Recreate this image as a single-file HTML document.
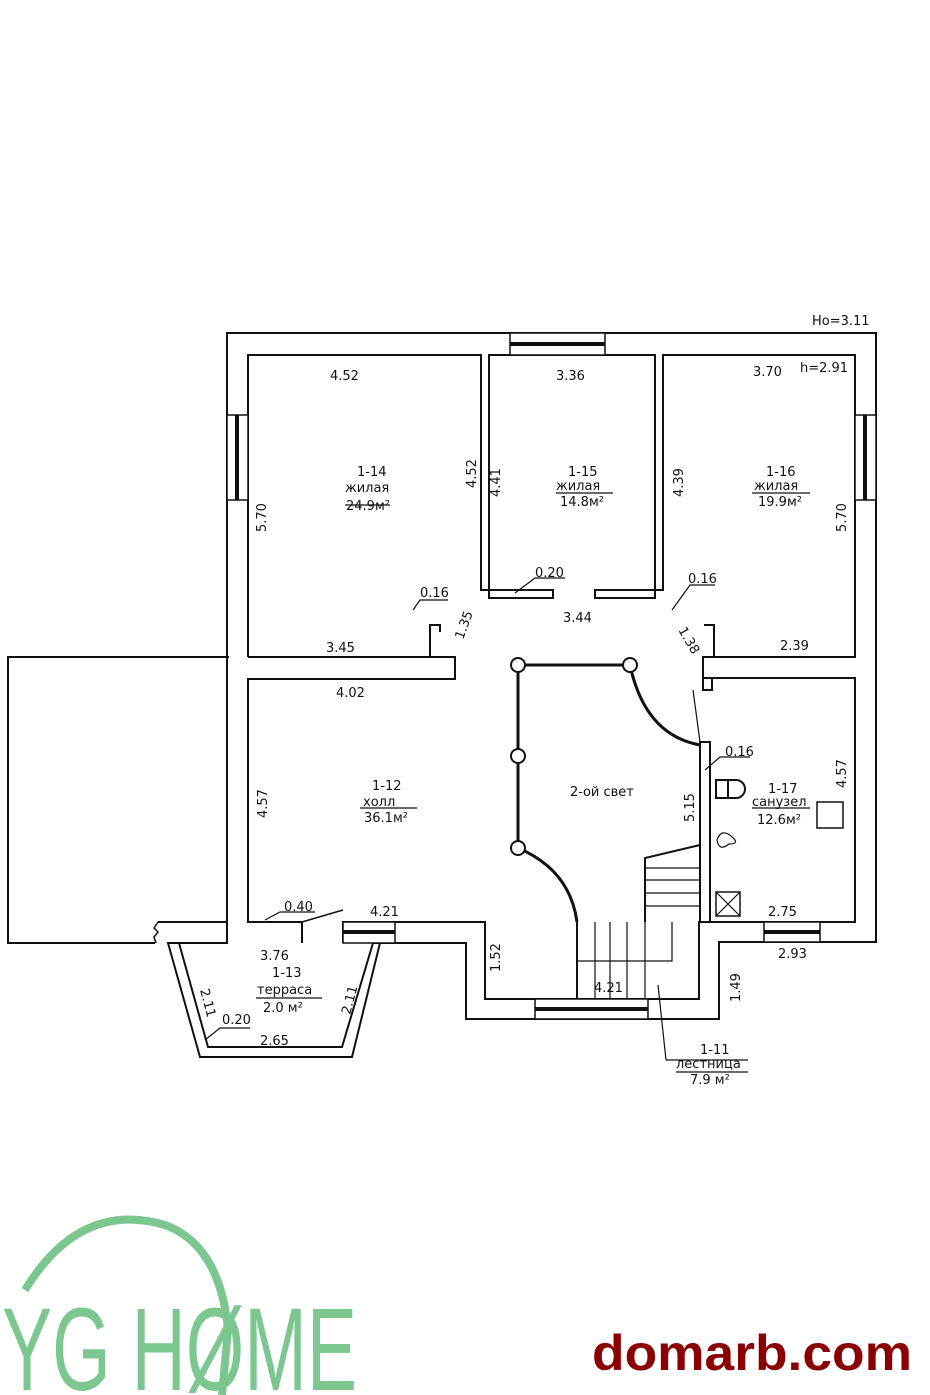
<!DOCTYPE html>
<html><head><meta charset="utf-8"><style>
body{margin:0;background:#fff;width:930px;height:1395px;overflow:hidden}
svg{display:block}
text{font-family:"DejaVu Sans","Liberation Sans",sans-serif;font-size:13px;fill:#111}
</style></head><body>
<svg width="930" height="1395" viewBox="0 0 930 1395" xmlns="http://www.w3.org/2000/svg">
<g fill="none" stroke="#111" stroke-width="2">
<polyline points="229,657 8,657 8,943 155,943"/>
<polyline points="158,922 227,922"/>
<path d="M158,922 l-4,6 l4,4 l-4,5 l2,6" stroke-width="1.5"/>
<polyline points="168,943 227,943 227,333 876,333 876,942 719,942 719,1019 466,1019 466,943 380,943"/>
<polyline points="248,657 248,355 481,355 481,590 553,590 553,598 489,598 489,355 655,355 655,598 595,598 595,590 663,590 663,355 855,355 855,657 703,657 703,678 855,678 855,922 699,922 699,999 485,999 485,922 343,922 343,943"/>
<polyline points="248,678 248,922 302,922 302,943"/>
<polyline points="248,657 455,657 455,679 248,679"/>
<polyline points="430,657 430,625 440,625 440,632"/>
<polyline points="714,657 714,625 704,625"/>
<polyline points="703,678 703,690 712,690 712,678"/>
<polyline points="700,922 700,742 710,742 710,922"/>
<line x1="693" y1="690" x2="700" y2="742" stroke-width="1.2"/>
<polygon points="168,943 200,1057 352,1057 380,943 373,943 342,1047 208,1047 179,943"/>
<line x1="302" y1="922" x2="343" y2="910" stroke-width="1.5"/>
<line x1="518" y1="665" x2="630" y2="665" stroke-width="3"/>
<line x1="518" y1="665" x2="518" y2="848" stroke-width="3"/>
<path d="M630,665 Q645,735 700,745" stroke-width="3"/>
<path d="M518,848 Q570,870 577,922" stroke-width="3"/>
<polyline points="577,922 577,999"/>
<polyline points="645,922 645,858 700,845"/>
<g stroke-width="1.2">
<line x1="645" y1="868" x2="700" y2="868"/><line x1="645" y1="880" x2="700" y2="880"/>
<line x1="645" y1="893" x2="700" y2="893"/><line x1="645" y1="906" x2="700" y2="906"/>
<line x1="595" y1="922" x2="595" y2="999"/><line x1="610" y1="922" x2="610" y2="999"/>
<line x1="627" y1="922" x2="627" y2="999"/><line x1="645" y1="922" x2="645" y2="999"/>
<polyline points="577,961 672,961 672,922"/>
<line x1="658" y1="985" x2="666" y2="1060"/>
<line x1="666" y1="1060" x2="748" y2="1060"/>
</g>
<rect x="716" y="780" width="12" height="18"/>
<path d="M728,780 h8 a9 9 0 0 1 0 18 h-8"/>
<path d="M717,840 q4,-12 14,-4 q10,8 -2,8 q-10,8 -12,-4z" stroke-width="1.2"/>
<rect x="716" y="892" width="24" height="24" stroke-width="1.5"/>
<path d="M716,892 l24,24 M740,892 l-24,24" stroke-width="1.2"/>
<rect x="817" y="802" width="26" height="26" stroke-width="1.5"/>
</g>
<g fill="#fff" stroke="#111" stroke-width="2">
<circle cx="518" cy="665" r="7"/><circle cx="630" cy="665" r="7"/>
<circle cx="518" cy="756" r="7"/><circle cx="518" cy="848" r="7"/>
</g>
<g fill="#fff" stroke="#111" stroke-width="1.5">
<rect x="510" y="333" width="95" height="22"/><line x1="510" y1="344" x2="605" y2="344" stroke-width="4"/>
<rect x="227" y="415" width="21" height="85"/><line x1="237" y1="415" x2="237" y2="500" stroke-width="4"/>
<rect x="855" y="415" width="21" height="85"/><line x1="865" y1="415" x2="865" y2="500" stroke-width="4"/>
<rect x="535" y="999" width="113" height="20"/><line x1="535" y1="1009" x2="648" y2="1009" stroke-width="4"/>
<rect x="764" y="922" width="56" height="20"/><line x1="764" y1="932" x2="820" y2="932" stroke-width="4"/>
<rect x="343" y="922" width="52" height="21"/><line x1="343" y1="932" x2="395" y2="932" stroke-width="4"/>
</g>
<g stroke="#111" stroke-width="1.2" fill="none">
<polyline points="413,610 420,600 448,600"/>
<polyline points="515,593 535,578 565,578"/>
<polyline points="672,610 690,585 715,585"/>
<polyline points="705,770 720,757 750,757"/>
<polyline points="265,920 280,912 315,912"/>
<polyline points="205,1040 220,1028 250,1028"/>
<line x1="345" y1="505" x2="390" y2="505"/>
<line x1="556" y1="493" x2="613" y2="493"/>
<line x1="752" y1="493" x2="810" y2="493"/>
<line x1="360" y1="808" x2="417" y2="808"/>
<line x1="752" y1="808" x2="810" y2="808"/>
<line x1="256" y1="998" x2="322" y2="998"/>
<line x1="676" y1="1072" x2="748" y2="1072"/>
</g>
<g>
<text x="812" y="325">Ho=3.11</text>
<text x="800" y="372">h=2.91</text>
<text x="330" y="380">4.52</text><text x="556" y="380">3.36</text><text x="753" y="376">3.70</text>
<text x="357" y="476">1-14</text><text x="345" y="492">жилая</text><text x="346" y="510">24.9м²</text>
<text x="568" y="476">1-15</text><text x="556" y="490">жилая</text><text x="560" y="506">14.8м²</text>
<text x="766" y="476">1-16</text><text x="754" y="490">жилая</text><text x="758" y="506">19.9м²</text>
<text x="535" y="577">0.20</text><text x="420" y="597">0.16</text><text x="688" y="583">0.16</text>
<text x="563" y="622">3.44</text><text x="326" y="652">3.45</text><text x="780" y="650">2.39</text>
<text x="336" y="697">4.02</text>
<text x="372" y="790">1-12</text><text x="363" y="806">холл</text><text x="364" y="822">36.1м²</text>
<text x="570" y="796">2-ой свет</text>
<text x="725" y="756">0.16</text>
<text x="768" y="793">1-17</text><text x="752" y="806">санузел</text><text x="757" y="824">12.6м²</text>
<text x="284" y="911">0.40</text><text x="370" y="916">4.21</text><text x="768" y="916">2.75</text>
<text x="260" y="960">3.76</text><text x="778" y="958">2.93</text>
<text x="272" y="977">1-13</text><text x="257" y="994">терраса</text><text x="263" y="1012">2.0 м²</text>
<text x="222" y="1024">0.20</text><text x="260" y="1045">2.65</text>
<text x="594" y="992">4.21</text>
<text x="700" y="1054">1-11</text><text x="676" y="1068">лестница</text><text x="690" y="1084">7.9 м²</text>
<text transform="translate(266,532) rotate(-90)">5.70</text>
<text transform="translate(476,488) rotate(-90)">4.52</text>
<text transform="translate(500,497) rotate(-90)">4.41</text>
<text transform="translate(683,497) rotate(-90)">4.39</text>
<text transform="translate(846,532) rotate(-90)">5.70</text>
<text transform="translate(267,818) rotate(-90)">4.57</text>
<text transform="translate(846,788) rotate(-90)">4.57</text>
<text transform="translate(694,822) rotate(-90)">5.15</text>
<text transform="translate(500,972) rotate(-90)">1.52</text>
<text transform="translate(740,1002) rotate(-90)">1.49</text>
<text transform="translate(463,640) rotate(-70)">1.35</text>
<text transform="translate(678,630) rotate(60)">1.38</text>
<text transform="translate(200,990) rotate(75)">2.11</text>
<text transform="translate(350,1015) rotate(-75)">2.11</text>
</g>
<path d="M25,1290 Q80,1200 165,1225 Q220,1245 228,1330 L222,1395" fill="none" stroke="#7cc790" stroke-width="8"/>
<text x="2" y="1390" style="font-family:'Liberation Sans',sans-serif;font-size:118px;fill:#7cc790;" textLength="355" lengthAdjust="spacingAndGlyphs">YG HØME</text>
<text x="592" y="1370" style="font-family:'Liberation Sans',sans-serif;font-size:50px;font-weight:bold;fill:#8b0000;" textLength="320" lengthAdjust="spacingAndGlyphs">domarb.com</text>
</svg>
</body></html>
